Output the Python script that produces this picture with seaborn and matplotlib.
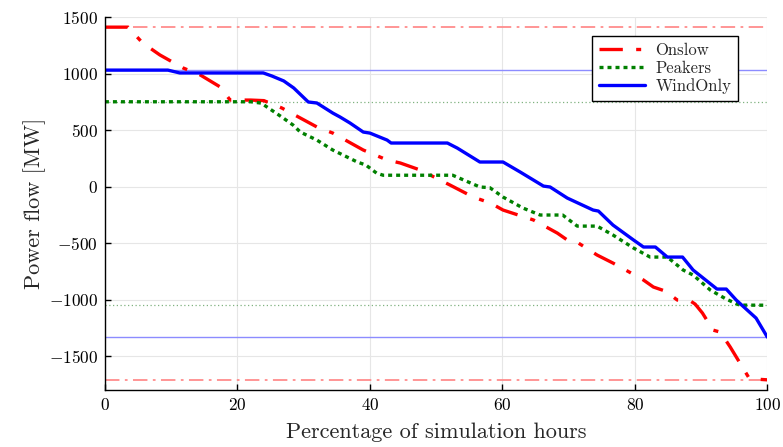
import matplotlib
matplotlib.use("Agg")
import matplotlib.pyplot as plt
import seaborn as sns
import pandas as pd

onslow_x = [0, 3.5, 4.3, 5.7, 8.3, 11.8, 14.4, 17.4, 18.9, 20.4, 22.0, 24.0, 26.7, 32.0, 34.4, 39.0,
            42.6, 44.6, 47.6, 52.1, 55.6, 58.2, 60.1, 64.7, 68.3, 69.8, 71.0, 74.3, 76.7, 78.9,
            81.3, 82.8, 84.6, 86.4, 88.4, 89.1, 90.2, 91.8, 92.9, 94.4, 97.3, 100]
onslow_y = [1410, 1410, 1358, 1270, 1164, 1049, 987, 881, 765, 765, 765, 760, 695, 527, 473, 323,
            235, 208, 146, 13, -93, -146, -208, -296, -412, -473, -482, -606, -677, -748,
            -827, -889, -925, -1004, -1013, -1040, -1119, -1270, -1288, -1420, -1700, -1710]

peakers_x = [0, 22.0, 23.6, 26.7, 28.4, 29.5, 32.0, 34.4, 38.1, 39.4, 41.0, 42.0, 52.5, 56.6, 58.1,
             60.1, 63.1, 65.7, 69.1, 71.3, 74.3, 76.7, 79.8, 82.3, 84.9, 87.3, 88.8, 91.4, 93.8,
             95.8, 100]
peakers_y = [750, 750, 738, 615, 544, 482, 411, 323, 217, 190, 119, 100, 100, -4, -10,
             -93, -190, -252, -252, -350, -350, -429, -544, -624, -624, -739, -783, -916, -996,
             -1049, -1050]

wind_x = [0, 9.5, 11.3, 23.9, 25.2, 27.0, 28.5, 29.6, 30.7, 32.0, 34.4, 35.5, 37.0, 39.0, 40.0,
          42.6, 43.2, 51.7, 53.2, 56.6, 60.1, 62.7, 66.2, 67.2, 69.8, 73.7, 74.5, 76.7, 79.8,
          81.3, 83.1, 84.9, 87.2, 88.8, 92.4, 93.8, 95.3, 98.3, 100]
wind_y = [1030, 1030, 1005, 1005, 978, 934, 872, 810, 748, 739, 650, 615, 562, 482, 473,
          411, 385, 385, 340, 217, 217, 128, 4, -4, -102, -208, -217, -341, -473,
          -535, -535, -624, -624, -739, -907, -907, -1004, -1164, -1332]

limits_onslow = [1410, -1710]
limits_peakers = [750, -1050]
limits_wind = [1030, -1330]

x_ticks = [0, 20, 40, 60, 80, 100]
y_ticks = [-1500, -1000, -500, 0, 500, 1000, 1500]

sns.set_theme(style="white")
plt.rcParams['font.family'] = ['cmr10', 'DejaVu Serif']
plt.rcParams['mathtext.fontset'] = 'cm'
plt.rcParams['axes.formatter.use_mathtext'] = True
plt.rcParams['axes.unicode_minus'] = True

fig = plt.figure(figsize=(7.83, 4.47), dpi=100)
ax = fig.add_axes([0.134, 0.1275, 0.846, 0.8345])

for v in limits_onslow:
    ax.axhline(v, color=(1, 0.55, 0.55), lw=1.3, ls=(0, (8, 3, 1.5, 3)), zorder=1)
for v in limits_wind:
    ax.axhline(v, color=(0.55, 0.55, 1), lw=1.0, ls='-', zorder=1)
for v in limits_peakers:
    ax.axhline(v, color=(0.5, 0.7, 0.5), lw=0.9, ls=(0, (1, 2)), zorder=1)

df_o = pd.DataFrame({'x': onslow_x, 'y': onslow_y})
df_p = pd.DataFrame({'x': peakers_x, 'y': peakers_y})
df_w = pd.DataFrame({'x': wind_x, 'y': wind_y})

sns.lineplot(data=df_o, x='x', y='y', ax=ax, color='red', lw=2.4, label='Onslow',
             estimator=None, sort=False)
ax.lines[-1].set_linestyle((0, (7, 4, 1.5, 4)))
sns.lineplot(data=df_p, x='x', y='y', ax=ax, color='green', lw=2.4, label='Peakers',
             estimator=None, sort=False)
ax.lines[-1].set_linestyle((0, (1.2, 1.2)))
sns.lineplot(data=df_w, x='x', y='y', ax=ax, color='blue', lw=2.4, label='WindOnly',
             estimator=None, sort=False)

ax.set_xlim(0, 100)
ax.set_ylim(-1800, 1500)
ax.set_xticks(x_ticks)
ax.set_yticks(y_ticks)
ax.grid(True, color='#e6e6e6', lw=0.8)
ax.set_axisbelow(True)
for s in ['top', 'right']:
    ax.spines[s].set_visible(False)
for s in ['left', 'bottom']:
    ax.spines[s].set_color('black')
    ax.spines[s].set_linewidth(1.0)
ax.tick_params(direction='in', length=4, width=1, colors='black', labelsize=12.5,
               left=True, bottom=True, pad=5)
ax.set_xlabel('Percentage of simulation hours', fontsize=16, labelpad=7)
ax.set_ylabel('Power flow [MW]', fontsize=16, labelpad=2)

leg = ax.legend(loc='upper right', bbox_to_anchor=(0.968, 0.972), fontsize=12,
                frameon=True, fancybox=False, edgecolor='black', framealpha=1,
                handlelength=2.8, handletextpad=0.6, borderpad=0.4, labelspacing=0.15)
leg.get_frame().set_linewidth(1.0)

fig.savefig('out.png', dpi=100)
